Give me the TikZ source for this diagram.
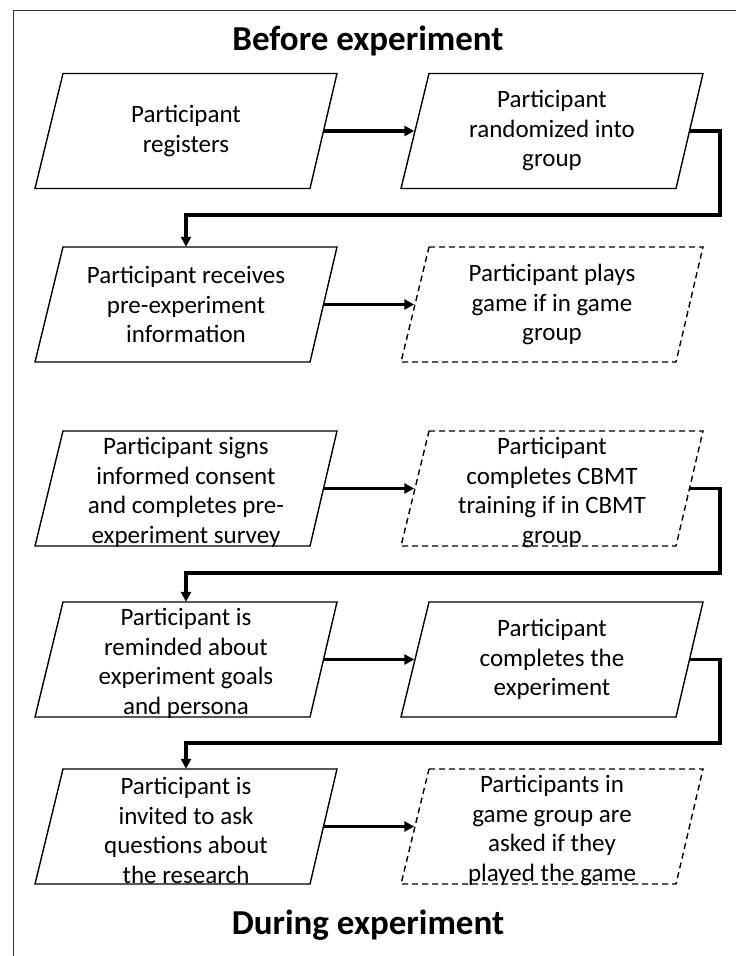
\documentclass[tikz,border=0pt]{standalone}
\usepackage{fontspec}
\setmainfont{Carlito}
\usetikzlibrary{arrows.meta}
\tikzset{
  shp/.style={draw=none, minimum width=275pt, minimum height=115pt, inner sep=0pt},
  txt/.style={draw=none, inner sep=0pt, align=center, font=\fontsize{25}{29.5}\selectfont},
  pbox/.style={line width=1.4pt, line join=miter},
  dbox/.style={pbox, dash pattern=on 6pt off 4pt},
  conn/.style={line width=3.2pt, -{Triangle[length=10pt,width=10pt]}},
  ttl/.style={font=\fontsize{35}{40}\selectfont\bfseries},
  frame/.style={line width=1pt, draw=black!80}
}
% #1 name, #2 x, #3 y, #4 text y offset, #5 outline style, #6 text
\newcommand{\mkbox}[6]{%
  \node[shp] (#1) at (#2,#3) {};
  \draw[#5, shift={(#1)}] (-123,-57.5) -- (151,-57.5) -- (124,57.5) -- (-151,57.5) -- cycle;
  \node[txt] (#1t) at (#2,#3+#4) {#6};
}
\begin{document}
\begin{tikzpicture}[x=1pt, y=-1pt]
\useasboundingbox (0,0) rectangle (736,956);
\draw[frame] (736,10) -- (13,10) -- (13,956);
\node[ttl] (t1) at (368,41) {Before experiment};
\node[ttl] (t2) at (368,925) {During experiment};

\mkbox{L1}{186}{131}{0}{pbox}{Participant\\registers}
\mkbox{R1}{552}{131}{0}{pbox}{Participant\\randomized into\\group}
\mkbox{L2}{186}{304.5}{0}{pbox}{Participant receives\\pre-experiment\\information}
\mkbox{R2}{552}{304.5}{0}{dbox}{Participant plays\\game if in game\\group}
\mkbox{L3}{186}{488.5}{4}{pbox}{Participant signs\\informed consent\\and completes pre-\\experiment survey}
\mkbox{R3}{552}{488.5}{4}{dbox}{Participant\\completes CBMT\\training if in CBMT\\group}
\mkbox{L4}{186}{659.5}{4}{pbox}{Participant is\\reminded about\\experiment goals\\and persona}
\mkbox{R4}{552}{659.5}{0}{pbox}{Participant\\completes the\\experiment}
\mkbox{L5}{186}{826.5}{4}{pbox}{Participant is\\invited to ask\\questions about\\the research}
\mkbox{R5}{552}{826.5}{4}{dbox}{Participants in\\game group are\\asked if they\\played the game}

\coordinate (c1) at (720,215);
\coordinate (c2) at (720,573);
\coordinate (c3) at (720,743);

\draw[conn] (L1.east) -- (R1.west);
\draw[conn] (L2.east) -- (R2.west);
\draw[conn] (L3.east) -- (R3.west);
\draw[conn] (L4.east) -- (R4.west);
\draw[conn] (L5.east) -- (R5.west);

\draw[conn] (R1.east) -| (c1) -| (L2.north);
\draw[conn] (R3.east) -| (c2) -| (L4.north);
\draw[conn] (R4.east) -| (c3) -| (L5.north);
\end{tikzpicture}
\end{document}
